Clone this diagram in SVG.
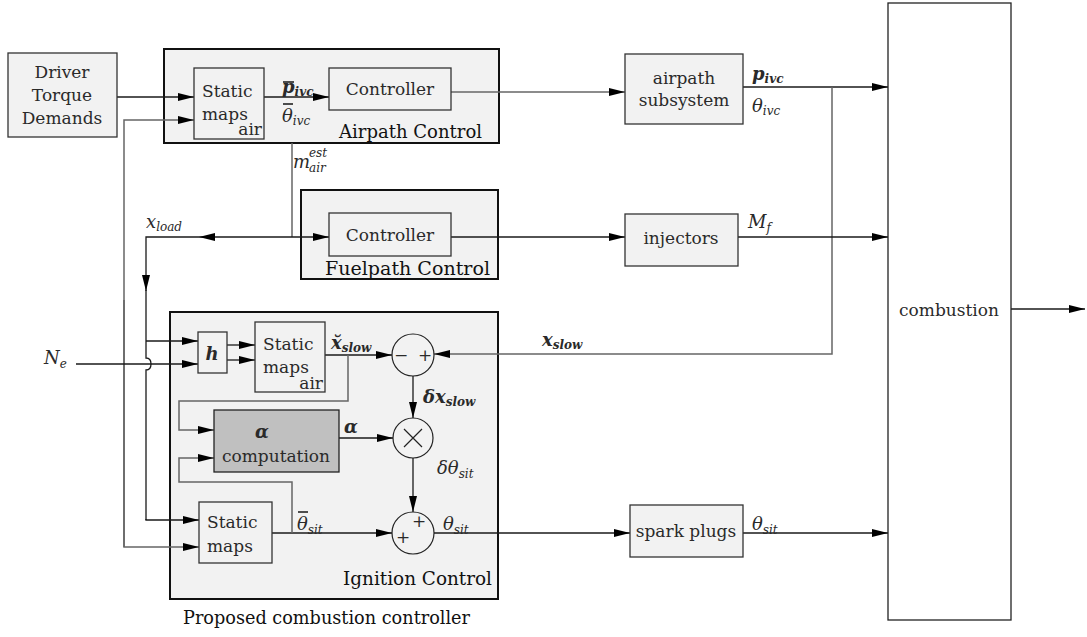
<svg xmlns="http://www.w3.org/2000/svg" width="1087" height="637" viewBox="0 0 1087 637">
  <style>
    text { font-family: "DejaVu Serif", "Liberation Serif", serif; fill: #2a2a2a; }
    .lbl { font-size: 17px; }
    .big { font-size: 19px; fill: #111; }
    .mi { font-size: 18px; font-style: italic; }
    .mb { font-size: 18px; font-style: italic; font-weight: bold; }
    .sub { font-size: 12px; }
    .box { fill: #f2f2f2; stroke: #333; stroke-width: 1.3; }
    .grp { fill: #f2f2f2; stroke: #111; stroke-width: 2; }
    .dark { fill: #c0c0c0; stroke: #222; stroke-width: 1.3; }
    .sum { fill: none; stroke: #222; stroke-width: 1.2; }
    .ln { fill: none; stroke: #1a1a1a; stroke-width: 1.3; }
    .lg { fill: none; stroke: #666; stroke-width: 1.5; }
    .ar { marker-end: url(#ah); }
    .c { text-anchor: middle; }
    .e { text-anchor: end; }
  </style>
  <defs>
    <marker id="ah" markerWidth="16" markerHeight="8" refX="16" refY="4" orient="auto" markerUnits="userSpaceOnUse">
      <path d="M0,0 L16,4 L0,8 z" fill="#000"/>
    </marker>
  </defs>

  <!-- group frames -->
  <g id="airpath-control">
    <rect class="grp" x="164" y="49" width="335" height="94"/>
    <text class="big" x="339" y="138" textLength="143" lengthAdjust="spacingAndGlyphs">Airpath Control</text>
  </g>
  <g id="fuelpath-control">
    <rect class="grp" x="301" y="190" width="197" height="89"/>
    <text class="big" x="325" y="275" textLength="165" lengthAdjust="spacingAndGlyphs">Fuelpath  Control</text>
  </g>
  <g id="ignition-control">
    <rect class="grp" x="170" y="312" width="328" height="287"/>
    <text class="big" x="343" y="585" textLength="149" lengthAdjust="spacingAndGlyphs">Ignition  Control</text>
  </g>
  <text class="big" x="183" y="624" textLength="287" lengthAdjust="spacingAndGlyphs">Proposed combustion controller</text>

  <!-- connectors -->
  <g id="connectors">
    <!-- driver demands to airpath maps -->
    <path class="ln ar" d="M117,97 H194"/>
    <path class="lg ar" d="M124,547 V120 H194"/>
    <path class="lg ar" d="M124,300 V547 H199"/>
    <!-- airpath maps to controller -->
    <path class="ln ar" d="M264,97 H329"/>
    <!-- airpath controller to subsystem -->
    <path class="lg ar" d="M451,92 H625"/>
    <!-- airpath subsystem to combustion -->
    <path class="ln ar" d="M743,87 H888"/>
    <!-- x_slow feedback -->
    <path class="lg ar" d="M832,87 V354 H434"/>
    <!-- estimated air mass -->
    <path class="lg" d="M292,143 V237"/>
    <!-- x_load -->
    <path class="ln ar" d="M292,237 H329"/>
    <path class="ln ar" d="M292,237 H199"/>
    <path class="ln ar" d="M199,237 H146 V291"/>
    <path class="ln" d="M146,290 V358 Q151,358 151,364 Q151,370 146,370 V520"/>
    <path class="ln ar" d="M146,341 H198"/>
    <path class="ln ar" d="M146,519 V520 H199"/>
    <!-- engine speed -->
    <path class="ln ar" d="M76,364 H198"/>
    <!-- fuel path -->
    <path class="ln ar" d="M451,237 H625"/>
    <path class="ln ar" d="M738,237 H888"/>
    <!-- h to ignition air maps -->
    <path class="ln ar" d="M227,345 H255"/>
    <path class="ln ar" d="M227,360 H255"/>
    <!-- estimated slow states -->
    <path class="ln ar" d="M325,355 H392"/>
    <path class="lg ar" d="M348,355 V401 H179 V430 H214"/>
    <!-- difference to product -->
    <path class="ln ar" d="M413,376 V418"/>
    <path class="ln ar" d="M339,438 H393"/>
    <path class="ln ar" d="M413,458 V512"/>
    <!-- nominal spark timing -->
    <path class="ln ar" d="M272,533 H392"/>
    <path class="lg ar" d="M292,533 V482 H179 V458 H214"/>
    <path class="ln ar" d="M434,533 H630"/>
    <path class="ln ar" d="M743,533 H888"/>
    <!-- combustion output -->
    <path class="ln ar" d="M1011,309 H1085"/>
  </g>

  <!-- nodes -->
  <g id="driver">
    <rect class="box" x="8" y="53" width="109" height="84"/>
    <text class="lbl c" x="62" y="78">Driver</text>
    <text class="lbl c" x="62" y="101">Torque</text>
    <text class="lbl c" x="62" y="124">Demands</text>
  </g>
  <g id="air-maps">
    <rect class="box" x="194" y="68" width="70" height="71"/>
    <text class="lbl" x="202" y="97">Static</text>
    <text class="lbl" x="202" y="120">maps</text>
    <text class="lbl e" x="262" y="135">air</text>
  </g>
  <g id="airpath-controller">
    <rect class="box" x="329" y="68" width="122" height="42"/>
    <text class="lbl c" x="390" y="95">Controller</text>
  </g>
  <g id="airpath-subsystem">
    <rect class="box" x="625" y="54" width="118" height="70"/>
    <text class="lbl c" x="684" y="84">airpath</text>
    <text class="lbl c" x="684" y="106">subsystem</text>
  </g>
  <g id="fuelpath-controller">
    <rect class="box" x="329" y="213" width="122" height="43"/>
    <text class="lbl c" x="390" y="241">Controller</text>
  </g>
  <g id="injectors">
    <rect class="box" x="625" y="214" width="113" height="52"/>
    <text class="lbl c" x="681" y="244">injectors</text>
  </g>
  <g id="combustion">
    <rect x="888" y="3" width="123" height="617" fill="#fff" stroke="#222" stroke-width="1.3"/>
    <text class="lbl c" x="949" y="316">combustion</text>
  </g>
  <g id="h-block">
    <rect class="box" x="198" y="332" width="29" height="41"/>
    <text class="mb c" x="212" y="360">h</text>
  </g>
  <g id="ignition-air-maps">
    <rect class="box" x="255" y="322" width="70" height="70"/>
    <text class="lbl" x="263" y="350">Static</text>
    <text class="lbl" x="263" y="373">maps</text>
    <text class="lbl e" x="323" y="389">air</text>
  </g>
  <g id="alpha-computation">
    <rect class="dark" x="214" y="410" width="125" height="62"/>
    <text class="mb c" x="262" y="438">α</text>
    <text class="lbl c" x="276" y="462">computation</text>
  </g>
  <g id="spark-maps">
    <rect class="box" x="199" y="502" width="73" height="61"/>
    <text class="lbl" x="207" y="528">Static</text>
    <text class="lbl" x="207" y="552">maps</text>
  </g>
  <g id="difference">
    <circle class="sum" cx="413" cy="355" r="21"/>
    <text class="lbl c" x="401" y="361" font-size="20">−</text>
    <text class="lbl c" x="425" y="361" font-size="20">+</text>
  </g>
  <g id="product">
    <circle class="sum" cx="413" cy="438" r="20"/>
    <path class="sum" d="M404,429 L422,447 M422,429 L404,447"/>
  </g>
  <g id="spark-sum">
    <circle class="sum" cx="413" cy="533" r="21"/>
    <text class="lbl c" x="403" y="543" font-size="20">+</text>
    <text class="lbl c" x="419" y="527" font-size="20">+</text>
  </g>
  <g id="spark-plugs">
    <rect class="box" x="630" y="505" width="113" height="52"/>
    <text class="lbl c" x="686" y="537">spark plugs</text>
  </g>

  <!-- signal labels -->
  <g id="labels">
    <text class="mb" x="282" y="93">p<tspan class="sub" dy="3">ivc</tspan></text>
    <path d="M283,82 H294" stroke="#222" stroke-width="1.6"/>
    <text class="mi" x="282" y="122">θ<tspan class="sub" dy="3">ivc</tspan></text>
    <path d="M283,104 H293" stroke="#222" stroke-width="1.6"/>
    <text class="mi" x="293" y="168">m</text>
    <text class="mi sub" x="309" y="157">est</text>
    <text class="mi sub" x="309" y="172">air</text>
    <text class="mb" x="752" y="80">p<tspan class="sub" dy="3">ivc</tspan></text>
    <text class="mi" x="752" y="112">θ<tspan class="sub" dy="3">ivc</tspan></text>
    <text class="mi" x="748" y="228">M<tspan class="sub" dy="4">f</tspan></text>
    <text class="mi" x="146" y="228">x<tspan class="sub" dy="3">load</tspan></text>
    <text class="mi" x="44" y="364">N<tspan class="sub" dy="4">e</tspan></text>
    <text class="mb" x="331" y="349">x̆<tspan class="sub" dy="3">slow</tspan></text>
    <text class="mb" x="542" y="346">x<tspan class="sub" dy="3">slow</tspan></text>
    <text class="mb" x="423" y="403">δx<tspan class="sub" dy="3">slow</tspan></text>
    <text class="mb" x="344" y="433">α</text>
    <text class="mi" x="437" y="474">δθ<tspan class="sub" dy="4">sit</tspan></text>
    <text class="mi" x="297" y="530">θ<tspan class="sub" dy="4">sit</tspan></text>
    <path d="M298,512 H308" stroke="#222" stroke-width="1.6"/>
    <text class="mi" x="443" y="530">θ<tspan class="sub" dy="4">sit</tspan></text>
    <text class="mi" x="752" y="530">θ<tspan class="sub" dy="4">sit</tspan></text>
  </g>
</svg>
